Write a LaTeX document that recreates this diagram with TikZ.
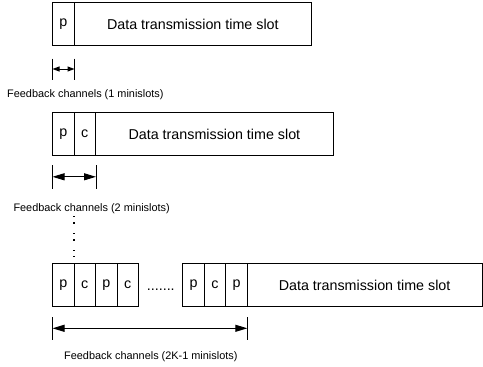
\documentclass[tikz,border=0pt]{standalone}
\usepackage{fontspec}
\setmainfont{Liberation Sans}
\usetikzlibrary{arrows.meta}
\begin{document}
\begin{tikzpicture}[x=1pt,y=-1pt,
  cell/.style={draw=black,line width=0.9pt,minimum height=43.5pt,inner sep=0pt,font=\fontsize{14.3}{16}\selectfont},
  mini/.style={cell,minimum width=21.5pt},
  lbl/.style={anchor=west,inner sep=0pt,font=\fontsize{10.9}{13}\selectfont},
  tick/.style={line width=1pt},
  span/.style={line width=1pt,{Triangle[length=12pt,width=7pt]}-{Triangle[length=12pt,width=7pt]}},
  smallspan/.style={line width=1pt,{Triangle[length=7pt,width=5pt]}-{Triangle[length=7pt,width=5pt]}},
  dot/.style={fill=black}]
\useasboundingbox (0,0) rectangle (483,367);
% Row 1
\node[mini] (r1a) at (63.25,24) {p};
\node[cell,minimum width=237.7pt] (r1d) at (192.85,24) {Data transmission time slot};
\coordinate (t1a) at (52.5,58.5);
\coordinate (t1b) at (52.5,80);
\coordinate (t1c) at (74.5,58.5);
\coordinate (t1d) at (74.5,80);
\draw[tick] (t1a) -- (t1b);
\draw[tick] (t1c) -- (t1d);
\coordinate (a1l) at (52.5,69);
\coordinate (a1r) at (74.5,69);
\draw[smallspan] (a1l) -- (a1r);
\node[lbl] (l1) at (7,94.5) {Feedback channels (1 minislots)};
% Row 2
\node[mini] (r2a) at (63.25,134) {p};
\node[mini] (r2b) at (84.75,134) {c};
\node[cell,minimum width=237.8pt] (r2d) at (214.4,134) {Data transmission time slot};
\coordinate (t2a) at (52.5,165);
\coordinate (t2b) at (52.5,188.5);
\coordinate (t2c) at (96,165);
\coordinate (t2d) at (96,188.5);
\draw[tick] (t2a) -- (t2b);
\draw[tick] (t2c) -- (t2d);
\coordinate (a2l) at (52.5,176.8);
\coordinate (a2r) at (96,176.8);
\draw[span] (a2l) -- (a2r);
\node[lbl] (l2) at (13.3,209) {Feedback channels (2 minislots)};
% vertical dots
\foreach \yy in {216.7,223,233.7,240,250.7,256.7}
  \fill[dot] (73.3,\yy-0.75) rectangle (74.8,\yy+0.75);
% Row 3
\node[mini] (r3a) at (63.25,285) {p};
\node[mini] (r3b) at (84.75,285) {c};
\node[mini] (r3c) at (106.25,285) {p};
\node[mini] (r3d) at (127.75,285) {c};
\node[anchor=base,inner sep=0pt,font=\fontsize{14.3}{16}\selectfont] (ell) at (160.8,290.5) {.......};
\node[mini] (r3e) at (193.5,285) {p};
\node[mini] (r3f) at (215,285) {c};
\node[mini] (r3g) at (236.5,285) {p};
\node[cell,minimum width=234.7pt] (r3h) at (364.6,285) {Data transmission time slot};
\coordinate (t3a) at (52.5,317);
\coordinate (t3b) at (52.5,340);
\coordinate (t3c) at (247.3,317);
\coordinate (t3d) at (247.3,340);
\draw[tick] (t3a) -- (t3b);
\draw[tick] (t3c) -- (t3d);
\coordinate (a3l) at (52.5,328.3);
\coordinate (a3r) at (247.3,328.3);
\draw[span] (a3l) -- (a3r);
\node[lbl] (l3) at (64,356.7) {Feedback channels (2K-1 minislots)};
\end{tikzpicture}
\end{document}
